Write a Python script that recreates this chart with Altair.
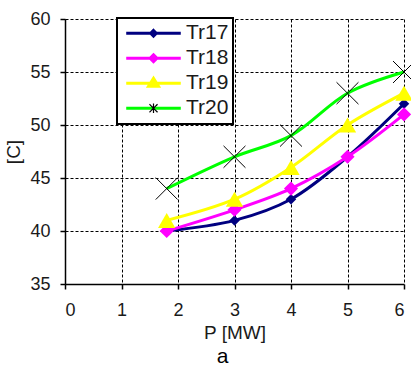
import altair as alt
import pandas as pd

# ---- data ----
p_mw = [1.8, 3, 4, 5, 6]
series_names = ["Tr17", "Tr18", "Tr19", "Tr20"]
tr17 = [40, 41, 43, 47, 52]
tr18 = [40, 42, 44, 47, 51]
tr19 = [41, 43, 46, 50, 53]
tr20 = [44, 47, 49, 53, 55]
x_ticks = [0, 1, 2, 3, 4, 5, 6]
y_ticks = [35, 40, 45, 50, 55, 60]

# ---- styles ----
line_colors = ["#000080", "#FF00FF", "#FFFF00", "#00FF00"]
FONT = "Liberation Sans"
TXT = "#1a1a1a"

marker_keys = [n + "m" for n in series_names]  # keys of the marker-only legend overlay

rows = []
for name, key, vals in zip(series_names, marker_keys, [tr17, tr18, tr19, tr20]):
    for xv, yv in zip(p_mw, vals):
        rows.append({"series": name, "mkey": key, "P": xv, "T": yv})
df = pd.DataFrame(rows)

x_enc = alt.X(
    "P:Q",
    scale=alt.Scale(domain=[0, 6], nice=False, zero=False),
    axis=alt.Axis(values=x_ticks, title="P [MW]", format="d"),
)
y_enc = alt.Y(
    "T:Q",
    scale=alt.Scale(domain=[35, 60], nice=False, zero=False),
    axis=alt.Axis(values=y_ticks, title="[C]", format="d"),
)

base = alt.Chart(df)

ASTER = "M-1,-1L1,1M-1,1L1,-1"
marker_specs = {
    "Tr17": dict(shape="diamond", filled=True, size=110, color=line_colors[0], opacity=1),
    "Tr18": dict(shape="diamond", filled=True, size=200, color=line_colors[1], opacity=1),
    "Tr19": dict(shape="triangle-up", filled=True, size=300, color=line_colors[2], opacity=1),
    "Tr20": dict(shape=ASTER, filled=False, size=480, color="black", strokeWidth=1, opacity=1),
}

layers = []
for name, col in zip(series_names, line_colors):
    sub = base.transform_filter(alt.datum.series == name)
    layers.append(
        sub.mark_line(interpolate="catmull-rom", strokeWidth=3, color=col).encode(x=x_enc, y=y_enc)
    )
    layers.append(sub.mark_point(**marker_specs[name]).encode(x=x_enc, y=y_enc))

# legend symbols: line segment + marker
seg = "M-0.88,0L0.88,0"
legend_paths = [
    seg + "M0,-0.09L0.09,0L0,0.09L-0.09,0Z",
    seg + "M0,-0.11L0.11,0L0,0.11L-0.11,0Z",
    seg + "M0,-0.16L0.16,0.1L-0.16,0.1Z",
    seg,
]

LEG_X, LEG_Y = 52, -1
common = dict(
    title=None,
    orient="none",
    legendX=LEG_X,
    legendY=LEG_Y,
    padding=4,
    symbolSize=3844,
    symbolOpacity=1,
    clipHeight=22.5,
    rowPadding=2,
    labelOffset=0,
    labelFont=FONT,
    labelFontSize=21,
)

leg = alt.Legend(fillColor="white", strokeColor="black", symbolStrokeWidth=3,
                 labelColor=TXT, **common)

legend_layer = base.mark_point(filled=True, opacity=0, strokeWidth=3).encode(
    x=x_enc,
    y=y_enc,
    color=alt.Color("series:N", scale=alt.Scale(domain=series_names, range=line_colors), legend=leg),
    stroke=alt.Stroke("series:N", scale=alt.Scale(domain=series_names, range=line_colors), legend=leg),
    shape=alt.Shape("series:N", scale=alt.Scale(domain=series_names, range=legend_paths), legend=leg),
)

# overlay legend that only draws the black asterisk for Tr20 (others get an invisible dash)
leg_b = alt.Legend(symbolStrokeWidth=1.2, labelExpr="''", symbolOffset=0.5, **common)
aster_small = "M-0.13,-0.13L0.13,0.13M-0.13,0.13L0.13,-0.13M0,-0.15L0,0.15"
legend_layer_b = base.mark_point(filled=False, opacity=0, shape=aster_small,
                                 color="black", strokeWidth=1.2).encode(
    x=x_enc,
    y=y_enc,
    strokeDash=alt.StrokeDash(
        "mkey:N",
        scale=alt.Scale(domain=marker_keys, range=[[0, 1000], [0, 1000], [0, 1000], [1, 0]]),
        legend=leg_b,
    ),
)

chart = (
    alt.layer(*layers, legend_layer, legend_layer_b)
    .properties(
        width=339,
        height=265,
        autosize=alt.AutoSizeParams(type="none"),
        padding={"left": 65, "top": 19, "right": 7, "bottom": 83},
        title=alt.TitleParams(
            "a", orient="bottom", font=FONT, fontSize=21, fontWeight="normal",
            color="black", offset=4, dx=-12,
        ),
    )
    .configure_view(stroke=None)
    .configure_legend(strokeWidth=2)
    .configure_axis(
        domainColor="black",
        domainWidth=1.5,
        tickColor="black",
        tickSize=5,
        tickWidth=1.5,
        gridColor="black",
        gridDash=[3, 2],
        gridWidth=1,
        gridOpacity=1,
        labelFont=FONT,
        labelFontSize=18,
        labelColor=TXT,
        titleFont=FONT,
        titleFontSize=19,
        titleFontWeight="normal",
        titleColor=TXT,
    )
    .configure_axisY(labelPadding=10, titlePadding=6)
    .configure_axisX(labelPadding=12, titlePadding=4)
)

chart.save("out.html", embed_options={"renderer": "svg", "actions": False})
